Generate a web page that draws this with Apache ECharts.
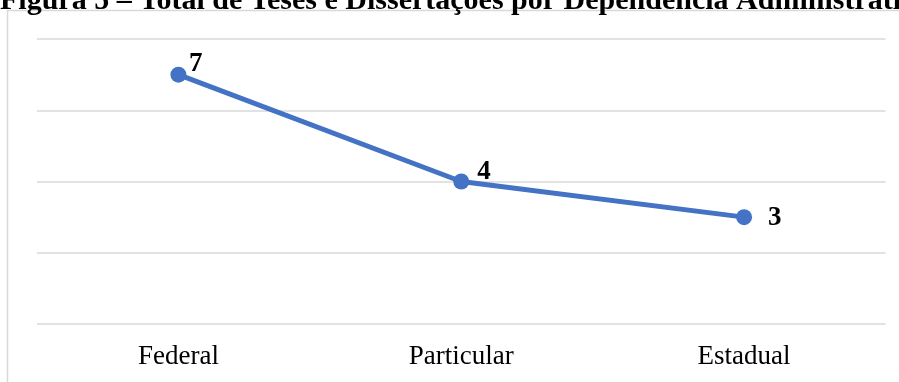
<!DOCTYPE html>
<html>
<head>
<meta charset="utf-8">
<script src="https://cdn.jsdelivr.net/npm/echarts@6/dist/echarts.min.js"></script>
<style>
html,body{margin:0;padding:0;background:#fff;}
#chart{width:899px;height:382px;}
</style>
</head>
<body>
<div id="chart"></div>
<script>
const titleText = 'Figura 5 – Total de Teses e Dissertações por Dependência Administrativa';
const categories = ['Federal', 'Particular', 'Estadual'];
const values = [7, 4, 3];
const yTicks = [0, 2, 4, 6, 8];

const labelStyles = [
  { position: 'right', offset: [-2.5, -10.5] },
  { position: 'right', offset: [3, -9.5] },
  { position: 'right', offset: [11, 0.5] }
];

const chart = echarts.init(document.getElementById('chart'), null, { renderer: 'canvas' });
chart.setOption({
  animation: false,
  backgroundColor: '#ffffff',
  graphic: [
    {
      type: 'rect',
      z: 0,
      shape: { x: 7.5, y: 10.5, width: 1000, height: 1000 },
      style: { fill: 'none', stroke: '#d9d9d9', lineWidth: 1.5 }
    },
    {
      type: 'text',
      z: 10,
      left: 0,
      top: -14,
      style: {
        text: titleText,
        font: 'bold 30px "Liberation Serif", "Times New Roman", serif',
        fill: '#000000'
      }
    }
  ],
  grid: { left: 37, right: 13.5, top: 39, bottom: 58, containLabel: false },
  xAxis: {
    type: 'category',
    data: categories,
    boundaryGap: true,
    axisLine: { show: false },
    axisTick: { show: false },
    axisLabel: {
      margin: 19,
      color: '#000000',
      fontFamily: '"Liberation Serif", "Times New Roman", serif',
      fontSize: 27
    }
  },
  yAxis: {
    type: 'value',
    min: yTicks[0],
    max: yTicks[yTicks.length - 1],
    interval: yTicks[1] - yTicks[0],
    axisLabel: { show: false },
    axisLine: { show: false },
    axisTick: { show: false },
    splitLine: { lineStyle: { color: '#d9d9d9', width: 1.5 } }
  },
  series: [{
    type: 'line',
    data: values.map((v, i) => ({ value: v, label: labelStyles[i] })),
    symbol: 'circle',
    symbolSize: 16,
    lineStyle: { color: '#4472C4', width: 5 },
    itemStyle: { color: '#4472C4' },
    label: {
      show: true,
      color: '#000000',
      fontWeight: 'bold',
      fontFamily: '"Liberation Serif", "Times New Roman", serif',
      fontSize: 27
    }
  }]
});
</script>
</body>
</html>
